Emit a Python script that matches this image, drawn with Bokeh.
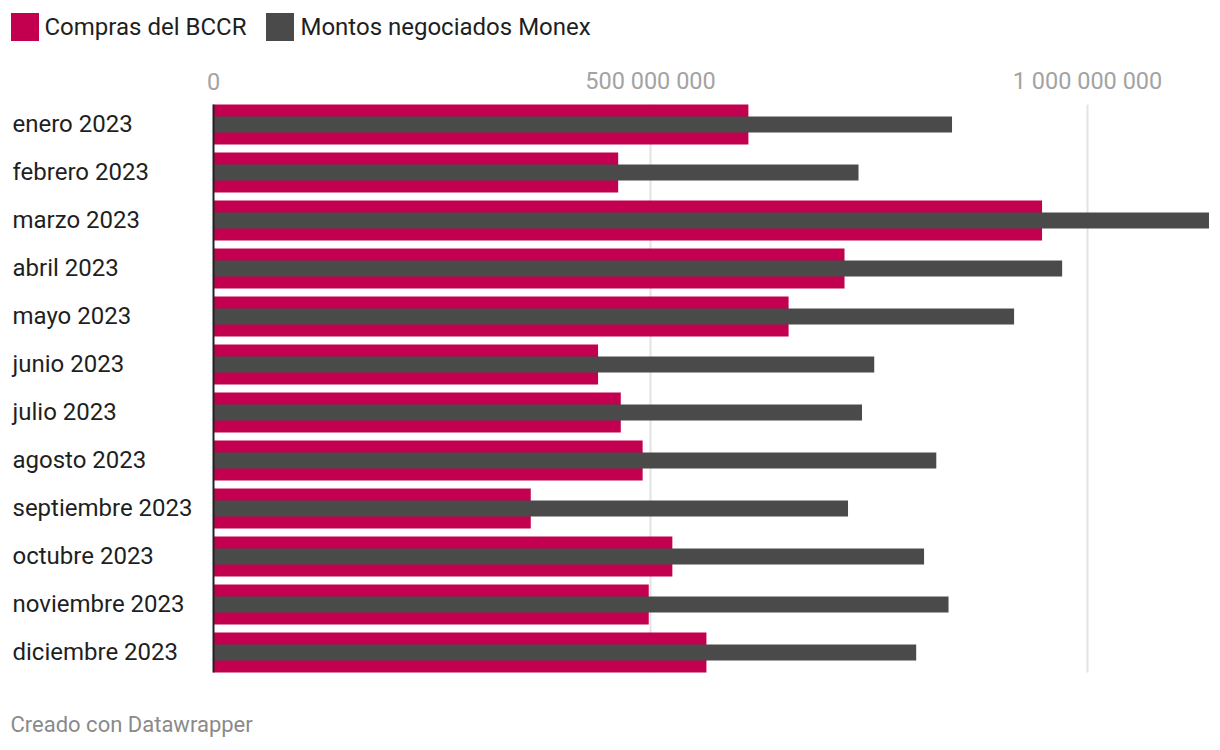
from bokeh.plotting import figure
from bokeh.models import Range1d, Legend, LegendItem, ColumnDataSource
from bokeh.core.properties import value
from bokeh.embed import file_html
from bokeh.resources import INLINE

# ---------------- data ----------------
months = ["enero 2023", "febrero 2023", "marzo 2023", "abril 2023", "mayo 2023",
          "junio 2023", "julio 2023", "agosto 2023", "septiembre 2023",
          "octubre 2023", "noviembre 2023", "diciembre 2023"]
compras_bccr = [612e6, 463e6, 948e6, 722e6, 658e6, 440e6, 466e6, 491e6, 363e6,
                525e6, 498e6, 564e6]
montos_monex = [845e6, 738e6, 1139e6, 971e6, 916e6, 756e6, 742e6, 827e6, 726e6,
                813e6, 841e6, 804e6]
axis_ticks = [0, 500_000_000, 1_000_000_000]
tick_labels = ["0", "500 000 000", "1 000 000 000"]
series_names = ["Compras del BCCR", "Montos negociados Monex"]

# ---------------- layout / style ----------------
W, H = 1220, 750
ROW_PX = 48            # pixel pitch of one category row
FIRST_ROW_PX = 124     # pixel centre of first row
ZERO_PX = 213          # pixel position of value 0
PX_PER_UNIT = 437 / 5e8
PINK = "#c2004f"
DARK = "#4a4a4a"
FONT = value("Roboto")

def px_to_x(px):
    return (px - ZERO_PX) / PX_PER_UNIT

def px_to_y(py):
    return (py - FIRST_ROW_PX) / ROW_PX

rows = list(range(len(months)))
src = ColumnDataSource(dict(row=rows, month=months, compras=compras_bccr, montos=montos_monex))

p = figure(width=W, height=H, output_backend="svg", toolbar_location=None,
           x_range=Range1d(px_to_x(0), px_to_x(W)),
           y_range=Range1d(px_to_y(H), px_to_y(0)),
           x_axis_location=None, y_axis_location=None,
           min_border=0, min_border_left=0, min_border_right=0,
           min_border_top=0, min_border_bottom=0)
p.outline_line_color = None
p.background_fill_color = "white"
p.border_fill_color = "white"
p.xgrid.visible = False
p.ygrid.visible = False

PINK_H = 40 / ROW_PX
DARK_H = 16 / ROW_PX
top_edge = rows[0] - PINK_H / 2
bottom_edge = rows[-1] + PINK_H / 2

# grid lines at non-zero ticks
p.segment(x0=axis_ticks[1:], x1=axis_ticks[1:], y0=top_edge, y1=bottom_edge,
          line_color="#e3e3e3", line_width=2)

r1 = p.hbar(y="row", right="compras", left=0, height=PINK_H, source=src,
            fill_color=PINK, line_color=None)
r2 = p.hbar(y="row", right="montos", left=0, height=DARK_H, source=src,
            fill_color=DARK, line_color=None)

# baseline at zero
p.segment(x0=[0], x1=[0], y0=top_edge, y1=bottom_edge, line_color="#222222", line_width=2)

# tick labels (top axis)
p.text(x=axis_ticks, y=px_to_y(80.5), text=tick_labels, text_font=FONT,
       text_font_size=value("23.5px"), text_color="#a3a3a3",
       text_align="center", text_baseline="middle")

# category labels
p.text(x=px_to_x(12), y="row", text="month", source=src, text_font=FONT,
       text_font_size=value("24px"), text_color="#1f1f1f",
       text_align="left", text_baseline="middle", y_offset=-1)

# footer
p.text(x=[px_to_x(10)], y=[px_to_y(724)], text=["Creado con Datawrapper"],
       text_font=FONT, text_font_size=value("22px"), text_color="#8a8a8a",
       text_align="left", text_baseline="middle")

legend = Legend(items=[LegendItem(label=series_names[0], renderers=[r1]),
                       LegendItem(label=series_names[1], renderers=[r2])],
                orientation="horizontal", location=(6.5, H - 44),
                glyph_width=35, glyph_height=35, label_standoff=3, spacing=16,
                padding=0, margin=0, border_line_color=None, background_fill_alpha=0,
                label_text_font="Roboto", label_text_font_size="24px",
                label_text_color="#1f1f1f", label_height=35)
p.add_layout(legend)

open("out.html", "w").write(file_html(p, INLINE))
